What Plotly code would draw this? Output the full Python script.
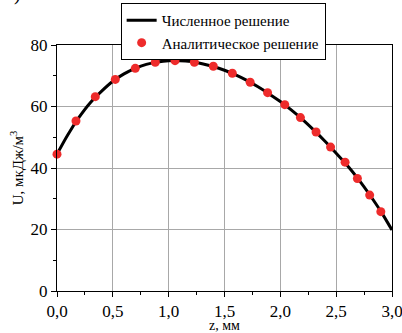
import plotly.graph_objects as go

# Numerical solution (line)
z_num = [0.0, 0.1, 0.2, 0.3, 0.4, 0.5, 0.6, 0.7, 0.8, 0.9, 1.0, 1.1, 1.2, 1.3, 1.4, 1.5,
         1.6, 1.7, 1.8, 1.9, 2.0, 2.1, 2.2, 2.3, 2.4, 2.5, 2.6, 2.7, 2.8, 2.9, 3.0]
u_num = [44.5, 51.0, 56.6, 61.3, 65.0, 68.2, 70.6, 72.4, 73.7, 74.5, 74.9, 74.9, 74.6, 73.9,
         73.0, 71.8, 70.3, 68.5, 66.4, 64.1, 61.6, 58.8, 55.7, 52.3, 48.7, 44.8, 40.8,
         36.3, 31.3, 25.9, 19.8]

# Analytical solution (points)
z_an = [0.0, 0.17, 0.343, 0.522, 0.701, 0.88, 1.057, 1.23, 1.40, 1.57, 1.73, 1.886,
        2.04, 2.18, 2.32, 2.45, 2.58, 2.69, 2.80, 2.90]
u_an = [44.5, 55.3, 63.2, 68.8, 72.4, 74.4, 74.9, 74.4, 73.1, 70.8, 67.9, 64.5,
        60.6, 56.4, 51.7, 46.8, 41.9, 36.6, 31.2, 25.8]

x_ticks = [0.0, 0.5, 1.0, 1.5, 2.0, 2.5, 3.0]
y_ticks = [0, 20, 40, 60, 80]

FONT = "Liberation Serif"

fig = go.Figure()
fig.add_trace(go.Scatter(x=z_num, y=u_num, mode="lines", name="Численное решение",
                         line=dict(color="black", width=3, shape="spline"),
                         cliponaxis=False))
fig.add_trace(go.Scatter(x=z_an, y=u_an, mode="markers", name="Аналитическое решение",
                         marker=dict(color="#EE2B2B", size=9, line=dict(width=0)),
                         cliponaxis=False))

axis_common = dict(showline=True, linecolor="black", linewidth=1, mirror=True,
                   showgrid=True, gridcolor="#A8A8A8", gridwidth=1,
                   ticks="outside", ticklen=5, tickwidth=1, tickcolor="black",
                   zeroline=False, automargin=False, ticklabeloverflow="allow",
                   tickfont=dict(family=FONT, size=17, color="black"))

fig.update_layout(
    width=402, height=333,
    margin=dict(l=57, r=10, t=45, b=42, autoexpand=False),
    paper_bgcolor="white", plot_bgcolor="white",
    separators=", ",
    font=dict(family=FONT, color="black"),
    xaxis=dict(range=[0, 3.0], tickvals=x_ticks, tickformat=".1f",
               minor=dict(ticks="outside", ticklen=3, tickwidth=1, tickcolor="black",
                          dtick=0.25, showgrid=False),
               title=dict(text="z, мм", font=dict(family=FONT, size=14), standoff=0),
               **axis_common),
    yaxis=dict(range=[0, 80], tickvals=y_ticks,
               minor=dict(ticks="outside", ticklen=3, tickwidth=1, tickcolor="black",
                          dtick=10, showgrid=False),
               title=dict(text="U, мкДж/м<sup>3</sup>", font=dict(family=FONT, size=15),
                          standoff=3),
               **axis_common),
    legend=dict(x=0.19, y=1.171, xanchor="left", yanchor="top",
                bgcolor="white", bordercolor="black", borderwidth=1,
                font=dict(family=FONT, size=15, color="black"),
                tracegroupgap=0, itemwidth=30),
    showlegend=True,
)

fig.add_annotation(text="1).", xref="paper", yref="paper", x=-0.165, y=1.155,
                   xanchor="left", yanchor="bottom", showarrow=False,
                   font=dict(family=FONT, size=20, color="black"))

fig.write_html("out.html",
               config={"displayModeBar": False},
               post_script="document.body.style.margin='0px';"
                           "document.body.style.overflow='hidden';")
